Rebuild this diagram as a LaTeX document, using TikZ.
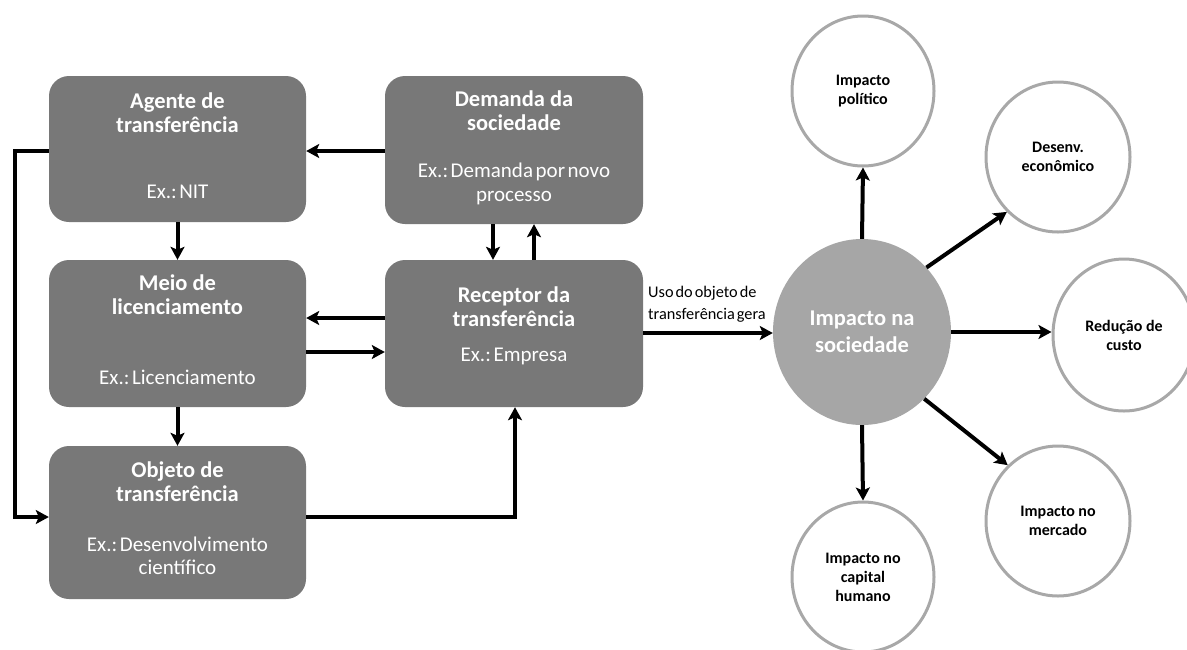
\documentclass[tikz,border=0pt]{standalone}
\usepackage{fontspec}
\setmainfont{Carlito}
\newfontfamily\tightfont[WordSpace=0.55]{Carlito}
\frenchspacing
\usetikzlibrary{shapes.geometric,arrows.meta}
\definecolor{boxgray}{RGB}{120,120,120}
\definecolor{biggray}{RGB}{166,166,166}
\definecolor{ringgray}{RGB}{168,168,168}
\tikzset{
  boxnode/.style={draw=none,fill=boxgray,rounded corners=20pt,minimum width=257pt,inner sep=0pt},
  ttl/.style={text=white,align=center,font=\fontsize{22.5}{24}\selectfont\bfseries,inner sep=0pt},
  extxt/.style={text=white,align=center,font=\tightfont\fontsize{21}{23.5}\selectfont,inner sep=0pt},
  ring/.style={ellipse,draw=ringgray,line width=3pt,fill=white,minimum width=142pt,minimum height=150pt,inner sep=0pt,align=center,font=\fontsize{16}{19}\selectfont\bfseries},
  arr/.style={line width=4pt,-{Stealth[length=13pt,width=14pt,inset=3pt]}},
  lbl/.style={align=left,inner sep=0pt,font=\tightfont\fontsize{16.3}{22}\selectfont}
}
\begin{document}
\begin{tikzpicture}[x=1pt,y=-1pt]
\useasboundingbox (0,0) rectangle (1187,649);
% boxes
\node[boxnode,minimum height=146pt] (agente) at (177.5,149) {};
\node[boxnode,minimum height=147pt] (meio) at (177.5,333.5) {};
\node[boxnode,minimum height=153pt] (objeto) at (177.5,522.5) {};
\node[boxnode,minimum width=258pt,minimum height=148pt] (demanda) at (514,150) {};
\node[boxnode,minimum width=258pt,minimum height=147pt] (receptor) at (514,333.5) {};
% box texts
\node[ttl] (agente-t) at (177.5,113) {Agente de\\transferência};
\node[extxt] (agente-e) at (177.5,192) {Ex.: NIT};
\node[ttl] (meio-t) at (177.5,295) {Meio de\\licenciamento};
\node[extxt] (meio-e) at (177.5,377) {Ex.: Licenciamento};
\node[ttl] (objeto-t) at (177.5,482) {Objeto de\\transferência};
\node[extxt] (objeto-e) at (177.5,556) {Ex.: Desenvolvimento\\científico};
\node[ttl] (demanda-t) at (514,111) {Demanda da\\sociedade};
\node[extxt] (demanda-e) at (514,184) {Ex.: Demanda por novo\\processo};
\node[ttl] (receptor-t) at (514,307) {Receptor da\\transferência};
\node[extxt] (receptor-e) at (514,356) {Ex.: Empresa};
% circles
\node[ellipse,fill=biggray,draw=none,minimum width=178pt,minimum height=186pt,inner sep=0pt,align=center,text=white,font=\fontsize{22.5}{27}\selectfont\bfseries] (big) at (862,332) {Impacto na\\sociedade};
\node[ring] (politico) at (863,91) {Impacto\\político};
\node[ring,minimum width=144pt] (desenv) at (1058,157) {Desenv.\\econômico};
\node[ring,minimum height=152pt] (reducao) at (1124,335) {Redução de\\custo};
\node[ring,minimum width=144pt] (mercado) at (1058,521) {Impacto no\\mercado};
\node[ring] (capital) at (863,577) {Impacto no\\capital\\humano};
% label
\node[lbl,anchor=west] (uso) at (648,304) {Uso do objeto de\\transferência gera};
% connectors between boxes
\coordinate (lp) at (15,151);
\draw[arr] (demanda.west |- 0,151) -- (agente.east |- 0,151);
\draw[arr] (agente.south) -- (meio.north);
\draw[arr] (meio.south) -- (objeto.north);
\draw[arr] (receptor.west |- 0,318) -- (meio.east |- 0,318);
\draw[arr] (meio.east |- 0,352) -- (receptor.west |- 0,352);
\draw[arr] (demanda.south -| 493,0) -- (receptor.north -| 493,0);
\draw[arr] (receptor.north -| 534,0) -- (demanda.south -| 534,0);
\draw[arr,line join=miter] (agente.west |- lp) -- (lp) |- (objeto.west |- 0,517);
\draw[arr,line join=miter] (objeto.east |- 0,517) -| (receptor.south -| 515,0);
\draw[arr] (receptor.east |- 0,333) -- (big.west |- 0,333);
% connectors from impact circle
\draw[arr] (big.north) -- (politico.south);
\draw[arr] (big.45) -- (desenv.227);
\draw[arr] (big.east) -- (big.east -| reducao.west);
\draw[arr] (big.-47) -- (mercado.132);
\draw[arr] (big.south) -- (capital.north);
\end{tikzpicture}
\end{document}
